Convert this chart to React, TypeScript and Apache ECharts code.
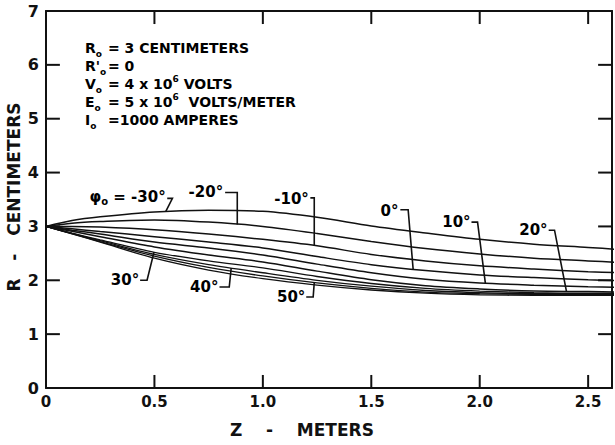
import React, { useEffect, useRef } from "react";
import * as echarts from "echarts";

// Z positions (meters) at which each trajectory was read
const zMeters = [0, 0.12, 0.25, 0.5, 0.75, 1.0, 1.25, 1.5, 1.75, 2.0, 2.25, 2.5, 2.65];

// R (centimeters) for each launch angle phi0
const rPhiMinus30 = [3.0, 3.11, 3.18, 3.27, 3.30, 3.28, 3.17, 3.01, 2.88, 2.76, 2.67, 2.61, 2.57];
const rPhiMinus20 = [3.0, 3.06, 3.09, 3.12, 3.08, 3.0, 2.87, 2.72, 2.59, 2.49, 2.41, 2.36, 2.33];
const rPhiMinus10 = [3.0, 3.0, 2.99, 2.94, 2.86, 2.76, 2.64, 2.48, 2.36, 2.27, 2.21, 2.16, 2.14];
const rPhi0 = [3.0, 2.955, 2.905, 2.81, 2.71, 2.60, 2.44, 2.29, 2.18, 2.10, 2.05, 2.01, 1.99];
const rPhi10 = [3.0, 2.93, 2.86, 2.71, 2.60, 2.47, 2.30, 2.14, 2.02, 1.95, 1.91, 1.88, 1.87];
const rPhi20 = [3.0, 2.91, 2.81, 2.62, 2.47, 2.34, 2.17, 2.01, 1.90, 1.84, 1.80, 1.79, 1.78];
const rPhi30 = [3.0, 2.875, 2.75, 2.52, 2.36, 2.23, 2.07, 1.94, 1.85, 1.80, 1.77, 1.76, 1.76];
const rPhi40 = [3.0, 2.87, 2.735, 2.48, 2.29, 2.14, 2.0, 1.89, 1.81, 1.77, 1.75, 1.75, 1.75];
const rPhi50 = [3.0, 2.865, 2.72, 2.45, 2.24, 2.08, 1.95, 1.85, 1.78, 1.75, 1.74, 1.74, 1.74];
const rPhi60 = [3.0, 2.86, 2.71, 2.41, 2.19, 2.03, 1.91, 1.82, 1.76, 1.73, 1.72, 1.72, 1.72];

const curves = [rPhiMinus30, rPhiMinus20, rPhiMinus10, rPhi0, rPhi10, rPhi20, rPhi30, rPhi40, rPhi50, rPhi60];
const curveNames = ["-30°", "-20°", "-10°", "0°", "10°", "20°", "30°", "40°", "50°", "60°"];

// axes
const X_MAX = 2.61;
const Y_MAX = 7;
const xTickValues = [0, 0.5, 1.0, 1.5, 2.0, 2.5];
const yTickValues = [0, 1, 2, 3, 4, 5, 6, 7];
// inward tick length expressed in axis units (about 13-14 px)
const X_TICK_LEN = 0.064;
const Y_TICK_LEN = 0.242;

// parameter block
const paramSymbols = ["{m|R}{s|o}", "{m|R'}{s|o}", "{m|V}{s|o}", "{m|E}{s|o}", "{m|I}{s|o}"];
const paramValues = [
  "{m|= 3 CENTIMETERS}",
  "{m|= 0}",
  "{m|= 4 x 10}{p|6}{m| VOLTS}",
  "{m|= 5 x 10}{p|6}{m|  VOLTS/METER}",
  "{m|=1000 AMPERES}",
];

// curve labels with leader lines (label anchor, bend points, leader end on curve)
const annotations = [
  { curve: 0, label: "{m|φ}{s|o}{m| = -30°}", anchor: [0.552, 3.55], p1: [0.559, 3.52], p2: [0.583, 3.52], endZ: 0.552 },
  { curve: 1, label: "{m|-20°}", anchor: [0.817, 3.64], p1: [0.826, 3.63], p2: [0.882, 3.63], endZ: 0.882 },
  { curve: 2, label: "{m|-10°}", anchor: [1.212, 3.51], p1: [1.219, 3.53], p2: [1.237, 3.53], endZ: 1.237 },
  { curve: 3, label: "{m|0°}", anchor: [1.625, 3.29], p1: [1.634, 3.31], p2: [1.670, 3.31], endZ: 1.693 },
  { curve: 4, label: "{m|10°}", anchor: [1.958, 3.08], p1: [1.962, 3.08], p2: [1.99, 3.08], endZ: 2.026 },
  { curve: 5, label: "{m|20°}", anchor: [2.313, 2.93], p1: [2.318, 2.93], p2: [2.345, 2.93], endZ: 2.40 },
  { curve: 6, label: "{m|30°}", anchor: [0.43, 2.0], p1: [0.434, 2.0], p2: [0.466, 2.0], endZ: 0.498 },
  { curve: 7, label: "{m|40°}", anchor: [0.795, 1.875], p1: [0.80, 1.875], p2: [0.845, 1.875], endZ: 0.854 },
  { curve: 8, label: "{m|50°}", anchor: [1.196, 1.69], p1: [1.20, 1.69], p2: [1.232, 1.69], endZ: 1.237 },
];

const FONT = "DejaVu Sans";
const INK = "#111";

function interpR(curve: number[], z: number): number {
  for (let i = 0; i < zMeters.length - 1; i++) {
    if (z >= zMeters[i] && z <= zMeters[i + 1]) {
      const t = (z - zMeters[i]) / (zMeters[i + 1] - zMeters[i]);
      return curve[i] + t * (curve[i + 1] - curve[i]);
    }
  }
  return curve[curve.length - 1];
}

const isTick = (v: number) => xTickValues.some((t) => Math.abs(t - v) < 1e-6);

export default function App() {
  const ref = useRef<HTMLDivElement>(null);
  useEffect(() => {
    if (!ref.current) return;
    const chart = echarts.init(ref.current, null, { renderer: "svg" });

    const richBase = {
      m: { fontFamily: FONT, fontWeight: "bold", fontSize: 14, color: INK, lineHeight: 20, verticalAlign: "middle" },
      s: { fontFamily: FONT, fontWeight: "bold", fontSize: 9, color: INK, lineHeight: 10, verticalAlign: "bottom" },
      p: { fontFamily: FONT, fontWeight: "bold", fontSize: 9, color: INK, lineHeight: 10, verticalAlign: "top" },
    };
    const richLabel = {
      m: { ...richBase.m, fontSize: 15 },
      s: { ...richBase.s, fontSize: 10 },
    };

    const axisLine = { show: true, onZero: false, lineStyle: { color: INK, width: 2 } };
    const noTick = { show: false };

    const paramRows = [48, 66, 84, 102, 120];
    const graphics: any[] = [];
    paramSymbols.forEach((sym, i) => {
      graphics.push({
        type: "text", x: 85, y: paramRows[i],
        style: { text: sym, rich: richBase, verticalAlign: "middle", align: "left" },
      });
      graphics.push({
        type: "text", x: 108, y: paramRows[i],
        style: { text: paramValues[i], rich: richBase, verticalAlign: "middle", align: "left" },
      });
    });
    graphics.push({
      type: "text", x: 302, y: 430,
      style: { text: "Z    -    METERS", fontFamily: FONT, fontWeight: "bold", fontSize: 17, fill: INK, align: "center", verticalAlign: "middle" },
    });
    graphics.push({
      type: "text", x: 14, y: 197, rotation: Math.PI / 2,
      style: { text: "R   -   CENTIMETERS", fontFamily: FONT, fontWeight: "bold", fontSize: 17, fill: INK, align: "center", verticalAlign: "middle" },
    });

    const lineSeries = curves.map((arr, ci) => ({
      type: "line",
      name: curveNames[ci],
      data: zMeters.map((z, i) => [z, arr[i]]),
      showSymbol: false,
      smooth: 0.3,
      lineStyle: { color: INK, width: ci >= 6 ? 1.3 : 1.5 },
      xAxisIndex: 0,
      yAxisIndex: 0,
      z: 3,
    }));

    // inward tick marks on all four sides, drawn as tiny two-point line series
    const tickSegments: number[][][] = [];
    xTickValues.filter((v) => v > 0).forEach((v) => {
      tickSegments.push([[v, 0], [v, Y_TICK_LEN]]);
      tickSegments.push([[v, Y_MAX], [v, Y_MAX - Y_TICK_LEN]]);
    });
    yTickValues.filter((v) => v > 0 && v < Y_MAX).forEach((v) => {
      tickSegments.push([[0, v], [X_TICK_LEN, v]]);
      tickSegments.push([[X_MAX, v], [X_MAX - X_TICK_LEN, v]]);
    });
    const tickSeries = tickSegments.map((seg) => ({
      type: "line",
      data: seg,
      showSymbol: false,
      silent: true,
      clip: false,
      lineStyle: { color: INK, width: 2 },
      xAxisIndex: 0,
      yAxisIndex: 0,
      z: 4,
    }));

    const leaderSeries = {
      type: "custom",
      xAxisIndex: 0,
      yAxisIndex: 0,
      clip: false,
      z: 5,
      encode: { x: 0, y: 1 },
      data: annotations.map((a) => [a.anchor[0], a.anchor[1]]),
      renderItem: (params: any, api: any) => {
        const a = annotations[params.dataIndex];
        const endR = interpR(curves[a.curve], a.endZ);
        const pts = [api.coord(a.p1), api.coord(a.p2), api.coord([a.endZ, endR])];
        const t = api.coord(a.anchor);
        return {
          type: "group",
          children: [
            { type: "polyline", shape: { points: pts }, style: { stroke: INK, lineWidth: 1.6, fill: null } },
            {
              type: "text", x: t[0], y: t[1],
              style: { text: a.label, rich: richLabel, align: "right", verticalAlign: "middle" },
            },
          ],
        };
      },
    };

    chart.setOption({
      animation: false,
      backgroundColor: "#fff",
      grid: { left: 46, top: 11, right: -3, bottom: 57, containLabel: false },
      xAxis: [
        {
          type: "value", min: 0, max: X_MAX, interval: 0.5, position: "bottom",
          axisLine, axisTick: noTick, splitLine: { show: false },
          axisLabel: {
            show: true, color: INK, fontFamily: FONT, fontWeight: "bold", fontSize: 15, margin: 6,
            formatter: (v: number) => (isTick(v) ? (v === 0 ? "0" : v.toFixed(1)) : ""),
          },
        },
        {
          type: "value", min: 0, max: X_MAX, interval: 0.5, position: "top",
          axisLine, axisTick: noTick, splitLine: { show: false },
          axisLabel: { show: false },
        },
      ],
      yAxis: [
        {
          type: "value", min: 0, max: Y_MAX, interval: 1, position: "left",
          axisLine, axisTick: noTick, splitLine: { show: false },
          axisLabel: {
            show: true, color: INK, fontFamily: FONT, fontWeight: "bold", fontSize: 16, margin: 7,
            formatter: (v: number) => (yTickValues.includes(v) ? String(v) : ""),
          },
        },
        {
          type: "value", min: 0, max: Y_MAX, interval: 1, position: "right",
          axisLine, axisTick: noTick, splitLine: { show: false },
          axisLabel: { show: false },
        },
      ],
      series: [...lineSeries, ...tickSeries, leaderSeries],
      graphic: graphics,
    });

    return () => chart.dispose();
  }, []);

  return (
    <div
      ref={ref}
      style={{ position: "fixed", left: 0, top: 0, width: 615, height: 445, background: "#fff" }}
    />
  );
}
